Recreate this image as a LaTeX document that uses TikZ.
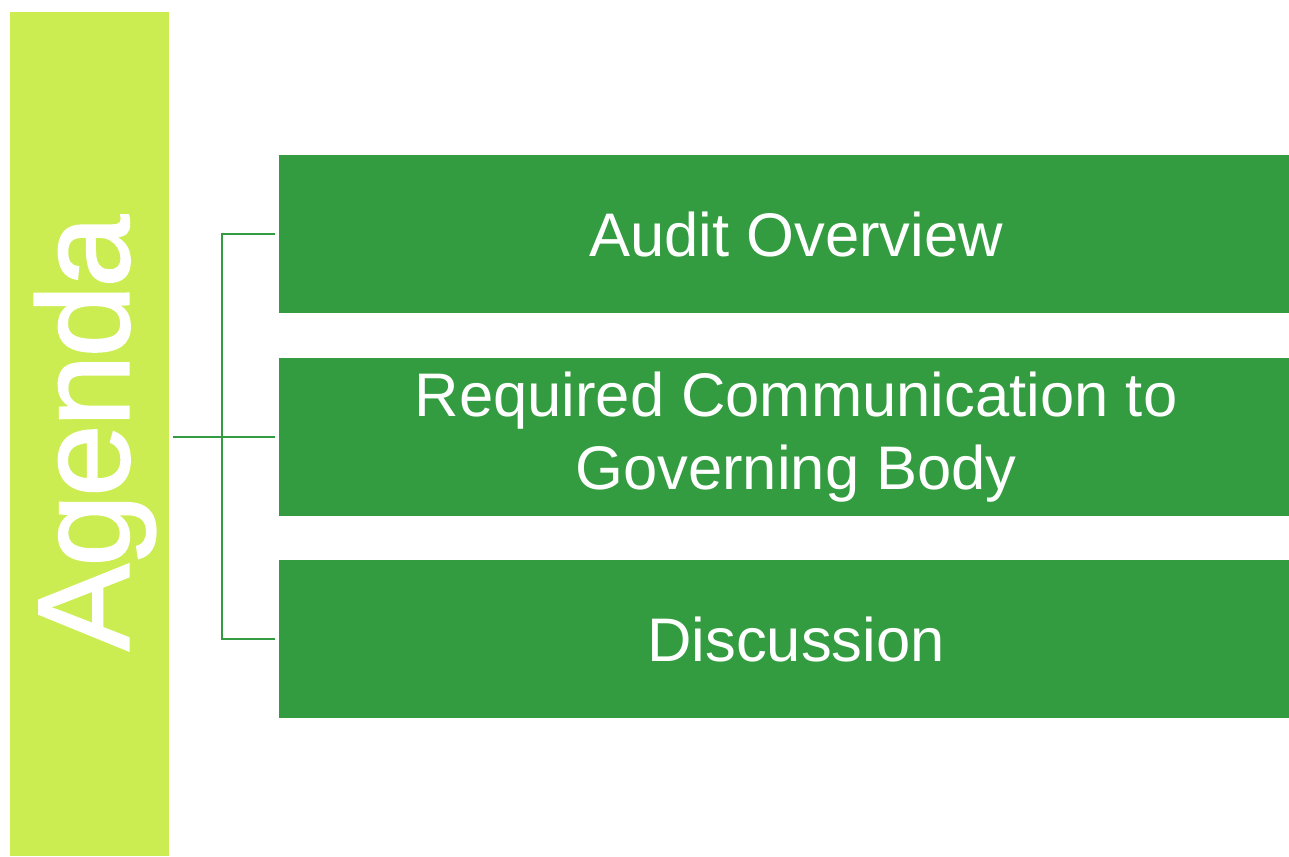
\documentclass[tikz,border=0pt]{standalone}
\usepackage{fontspec}
\setmainfont{Liberation Sans}
\newfontfamily\agendafont[FakeBold=1.5,LetterSpace=-2]{Liberation Sans}
\usetikzlibrary{positioning}

\definecolor{limebar}{HTML}{CBED52}
\definecolor{itemgreen}{HTML}{339C40}

\tikzset{
  itembox/.style={fill=itemgreen,text=white,minimum width=10.34cm,minimum height=1.58cm,
    inner sep=0pt,anchor=west,align=center,font=\fontsize{17.5}{21}\selectfont},
  branch/.style={draw=itemgreen,line width=0.6pt,shorten >=0.03cm}
}

\begin{document}
\begin{tikzpicture}[x=0.01cm,y=-0.01cm]

\useasboundingbox (0,0) rectangle (1289,856);
\clip (0,0) rectangle (1289,856);

\node[fill=limebar,minimum width=1.59cm,minimum height=8.44cm,inner sep=0pt] (bar) at (89.5,434) {};
\node[text=white,rotate=90,inner sep=0pt,
  font=\agendafont\fontsize{37}{40}\selectfont] (agenda) at (95,433) {Agenda};

\node[itembox] (audit) at (278,234) {Audit Overview};
\node[itembox] (comm) at (278,437) {Required Communication to\\Governing Body};
\node[itembox] (disc) at (278,639) {Discussion};

\coordinate (hub) at (222,437);

\draw[itemgreen,line width=0.6pt,shorten <=0.03cm] (bar.east |- hub) -- (hub);
\draw[branch] (hub) |- (audit.west);
\draw[branch] (hub) -- (comm.west);
\draw[branch] (hub) |- (disc.west);

\end{tikzpicture}
\end{document}
